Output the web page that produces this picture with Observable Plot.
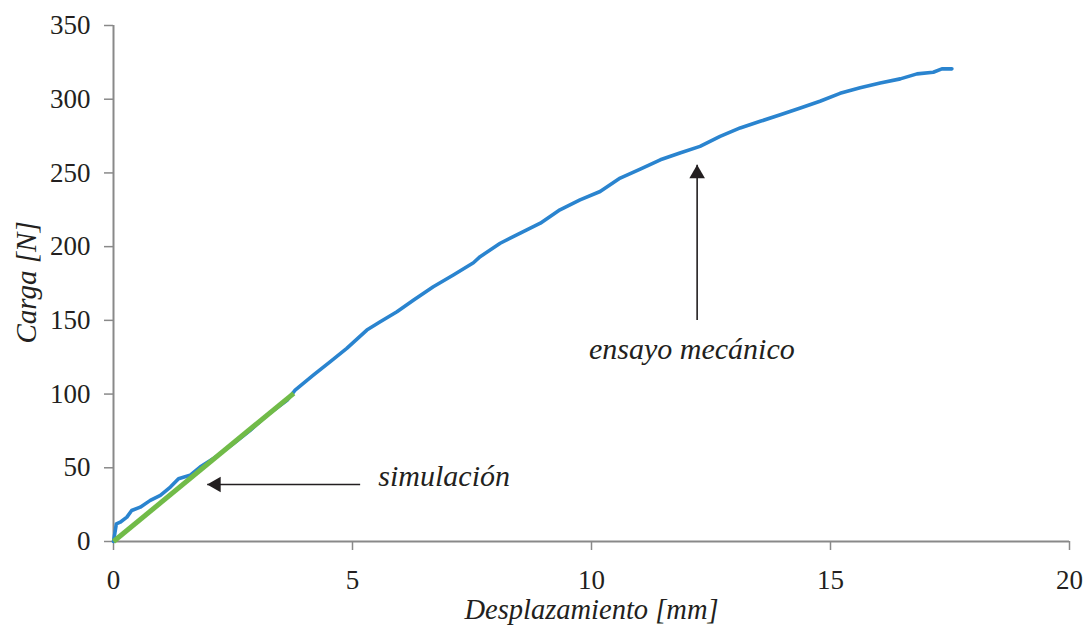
<!DOCTYPE html>
<html>
<head>
<meta charset="utf-8">
<script src="https://cdn.jsdelivr.net/npm/d3@7"></script>
<script src="https://cdn.jsdelivr.net/npm/@observablehq/plot@0.6"></script>
<style>
  html, body { margin: 0; padding: 0; background: #fff; }
  #chart svg, #chart svg text { font-family: "Liberation Serif", "Times New Roman", serif !important; }
</style>
</head>
<body>
<div id="chart"></div>
<script>
// Ensayo mecánico (experimental) : desplazamiento [mm], carga [N]
const ensayoX = [0, 0.06, 0.14, 0.28, 0.38, 0.56, 0.77, 0.98, 1.19, 1.36, 1.6, 1.81, 2.09, 2.51, 2.86, 3.21, 3.63,
  3.80, 4.18, 4.53, 4.88, 5.30, 5.58, 5.93, 6.28, 6.69, 7.11, 7.53, 7.67, 8.09, 8.51, 8.93, 9.34, 9.76, 10.18,
  10.6, 11.02, 11.44, 11.85, 12.27, 12.69, 13.11, 13.53, 13.95, 14.37, 14.78, 15.2, 15.62, 16.04, 16.46, 16.81,
  17.15, 17.33, 17.54];
const ensayoY = [0, 12, 13.1, 16.5, 21, 23.3, 27.9, 31.3, 36.9, 42.6, 44.9, 50.5, 56.2, 66.4, 75.4, 85.6, 95.8,
  102.6, 112.8, 121.9, 131, 143.4, 149, 155.8, 163.8, 172.8, 180.8, 189.1, 193.2, 202.3, 209.1, 215.9, 225, 231.7, 237.4,
  246.5, 252.6, 258.9, 263.5, 268, 274.8, 280.5, 285, 289.5, 294, 298.6, 304, 307.7, 311, 313.8, 317.2,
  318.3, 320.6, 320.6];
// Simulación
const simX = [0, 3.77];
const simY = [0, 100.5];

const xTicks = [0, 5, 10, 15, 20];
const yTicks = [0, 50, 100, 150, 200, 250, 300, 350];

// Annotations
const simArrow = [{x1: 5.16, x2: 1.96, y: 38.7}];
const simLabel = [{x: 5.54, y: 44.2, text: "simulación"}];
const ensArrow = [{x: 12.21, y1: 150.2, y2: 255.5}];
const ensLabel = [{x: 12.1, y: 130.5, text: "ensayo mecánico"}];

const ensayo = ensayoX.map((x, i) => ({x, y: ensayoY[i]}));
const sim = simX.map((x, i) => ({x, y: simY[i]}));

const axisGray = "#898989";
const ink = "#231f20";
const font = "Liberation Serif";

const chart = Plot.plot({
  width: 1085,
  height: 632,
  marginLeft: 113,
  marginRight: 16,
  marginTop: 25,
  marginBottom: 91,
  style: {fontFamily: font, fontSize: "27px", color: ink, background: "#fff"},
  x: {domain: [0, 20]},
  y: {domain: [0, 350]},
  marks: [
    Plot.axisX({ticks: xTicks, tickSize: 9, tickPadding: 19, stroke: axisGray, strokeWidth: 1.5, label: null, fill: ink, fontSize: 27}),
    Plot.axisY({ticks: yTicks, tickSize: 9, tickPadding: 14, stroke: axisGray, strokeWidth: 1.5, label: null, fill: ink, fontSize: 27}),
    Plot.ruleY([0], {stroke: axisGray, strokeWidth: 2}),
    Plot.ruleX([0], {stroke: axisGray, strokeWidth: 2}),
    Plot.line(ensayo, {x: "x", y: "y", stroke: "#2a84cf", strokeWidth: 3.6}),
    Plot.line(sim, {x: "x", y: "y", stroke: "#71bb48", strokeWidth: 5, strokeLinecap: "butt"}),
    // simulación arrow
    Plot.link(simArrow, {x1: "x1", x2: "x2", y1: "y", y2: "y", stroke: ink, strokeWidth: 1.6}),
    Plot.dot(simArrow, {x: "x2", y: "y", symbol: "triangle", r: 5.8, rotate: -90, fill: ink, stroke: "none", dx: 9}),
    Plot.text(simLabel, {x: "x", y: "y", text: "text", textAnchor: "start", fontStyle: "italic", fontSize: 30, fill: ink, fontFamily: font}),
    // ensayo arrow
    Plot.link(ensArrow, {x1: "x", x2: "x", y1: "y1", y2: "y2", stroke: ink, strokeWidth: 1.6}),
    Plot.dot(ensArrow, {x: "x", y: "y2", symbol: "triangle", r: 5.8, fill: ink, stroke: "none", dy: 9}),
    Plot.text(ensLabel, {x: "x", y: "y", text: "text", fontStyle: "italic", fontSize: 30, fill: ink, fontFamily: font}),
    // axis titles
    Plot.text(["Desplazamiento [mm]"], {frameAnchor: "bottom", dy: 77, fontStyle: "italic", fontSize: 28.5, fill: ink, fontFamily: font}),
    Plot.text(["Carga [N]"], {frameAnchor: "left", rotate: -90, dx: -87, dy: 60, fontStyle: "italic", fontSize: 29, fill: ink, fontFamily: font})
  ]
});
document.getElementById("chart").appendChild(chart);
</script>
</body>
</html>
